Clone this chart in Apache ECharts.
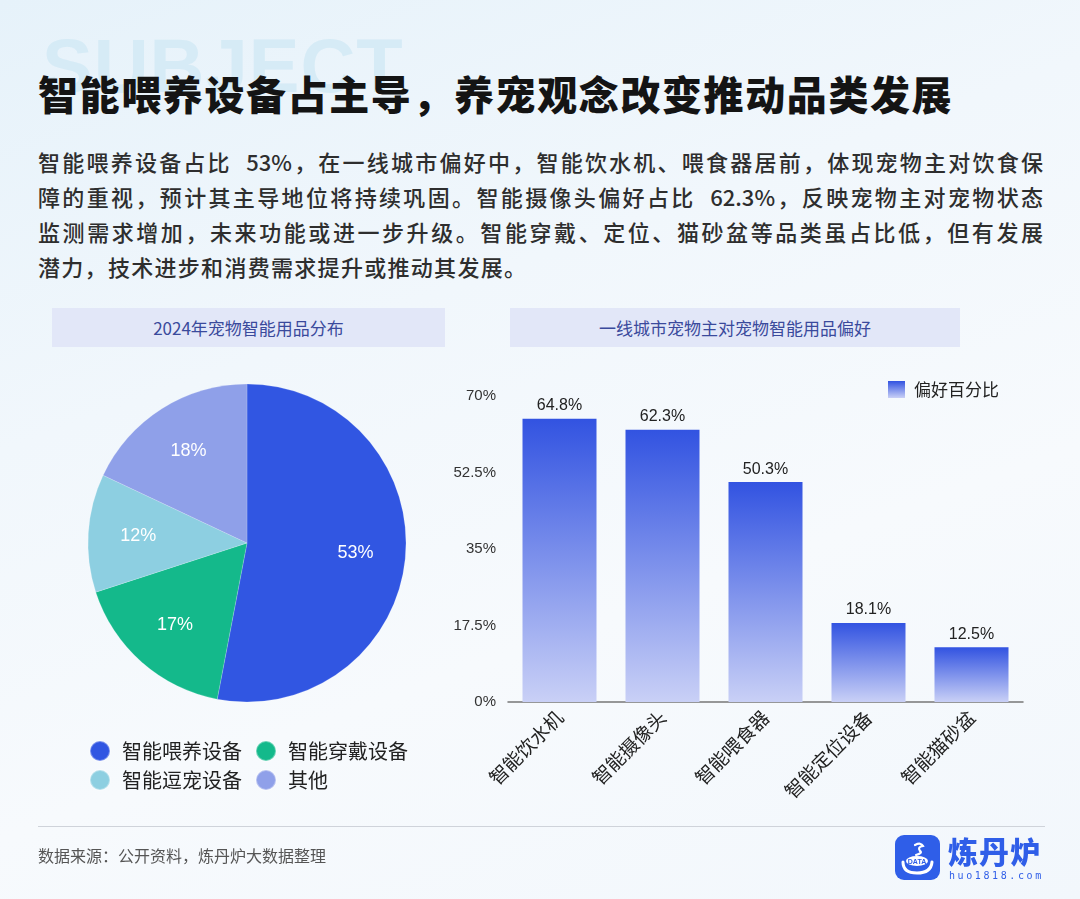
<!DOCTYPE html>
<html>
<head>
<meta charset="utf-8">
<script src="https://cdn.jsdelivr.net/npm/echarts@6/dist/echarts.min.js"></script>
<style>
html,body{margin:0;padding:0;}
body{width:1080px;height:899px;overflow:hidden;position:relative;
  background:linear-gradient(160deg,#e6f2fa 0%,#f1f7fc 35%,#f7fafd 65%,#f2f7fc 100%);
  font-family:"Noto Sans CJK SC","Noto Sans",sans-serif;}
.abs{position:absolute;}
#wm{left:42px;top:22px;font-family:"Liberation Sans",Arial,sans-serif;font-weight:bold;font-size:76px;color:#d3eaf6;letter-spacing:1px;opacity:0.85;}
#title{left:38px;top:64px;font-size:40px;font-weight:900;color:#141414;letter-spacing:1.6px;white-space:nowrap;}
#para{left:38px;top:144px;width:1005px;font-size:22px;line-height:35px;color:#2e2e2e;font-weight:500;letter-spacing:1.3px;}
#para div{white-space:nowrap;}
#para .j{text-align:justify;text-align-last:justify;letter-spacing:0;}
.hdr{top:308px;height:39px;line-height:39px;background:#e2e7f8;color:#3a4a9c;font-size:17px;text-align:center;}
#foot-line{left:38px;top:826px;width:1007px;height:1px;background:#cfd3da;}
#src{left:38px;top:843px;font-size:16px;color:#555;}
#logo{left:895px;top:835px;width:45px;height:45px;}
#logoTxt{left:948px;top:828px;font-size:30px;font-weight:900;color:#2f5ee8;letter-spacing:1px;}
#logoUrl{left:949px;top:870px;font-family:"DejaVu Sans Mono",monospace;font-size:10px;color:#2f5ee8;letter-spacing:2.6px;}
#chart{left:0;top:0;width:1080px;height:899px;}
</style>
</head>
<body>
<div id="wm" class="abs">SUBJECT</div>
<div id="title" class="abs">智能喂养设备占主导，养宠观念改变推动品类发展</div>
<div id="para" class="abs">
<div class="j">智能喂养设备占比&nbsp;&nbsp;53%，在一线城市偏好中，智能饮水机、喂食器居前，体现宠物主对饮食保</div>
<div class="j">障的重视，预计其主导地位将持续巩固。智能摄像头偏好占比&nbsp;&nbsp;62.3%，反映宠物主对宠物状态</div>
<div class="j">监测需求增加，未来功能或进一步升级。智能穿戴、定位、猫砂盆等品类虽占比低，但有发展</div>
<div>潜力，技术进步和消费需求提升或推动其发展。</div>
</div>
<div class="abs hdr" style="left:52px;width:393px;">2024年宠物智能用品分布</div>
<div class="abs hdr" style="left:510px;width:450px;">一线城市宠物主对宠物智能用品偏好</div>
<div id="chart" class="abs"></div>
<div id="foot-line" class="abs"></div>
<div id="src" class="abs">数据来源：公开资料，炼丹炉大数据整理</div>
<svg id="logo" class="abs" viewBox="0 0 45 45">
  <rect x="0" y="0" width="45" height="45" rx="9" fill="#2f5ee8"/>
  <path d="M20 10 q6 -3 8 1 q-6 1 -3 5 q3 2 -4 4" stroke="#fff" stroke-width="2.2" fill="none" stroke-linecap="round"/>
  <path d="M8 27 q0 11 14 11 q14 0 15 -11" stroke="#fff" stroke-width="3" fill="none" stroke-linecap="round"/>
  <ellipse cx="22" cy="26" rx="11" ry="5" fill="#fff"/>
  <text x="22" y="28.5" font-family="Liberation Sans,Arial" font-size="7" font-weight="bold" fill="#2f5ee8" text-anchor="middle">DATA</text>
</svg>
<div id="logoTxt" class="abs">炼丹炉</div>
<div id="logoUrl" class="abs">huo1818.com</div>
<script>
// Pie data
var pieNames = ['智能喂养设备', '智能穿戴设备', '智能逗宠设备', '其他'];
var pieValues = [53, 17, 12, 18];
var pieColors = ['#3156e2', '#14b98b', '#8dcfe1', '#8fa0e9'];
// Bar data
var barCategories = ['智能饮水机', '智能摄像头', '智能喂食器', '智能定位设备', '智能猫砂盆'];
var barValues = [64.8, 62.3, 50.3, 18.1, 12.5];
var barSeriesName = '偏好百分比';
var yTicks = [0, 17.5, 35, 52.5, 70];

var numFont = '"Liberation Sans", Arial, "Noto Sans CJK SC", sans-serif';
var cjkFont = '"Noto Sans CJK SC", sans-serif';

var pieData = pieNames.map(function (n, i) {
  return { name: n, value: pieValues[i], itemStyle: { color: pieColors[i] } };
});
var barGrad = new echarts.graphic.LinearGradient(0, 0, 0, 1, [
  { offset: 0, color: '#3253e1' },
  { offset: 1, color: '#c9d0f6' }
]);

var chart = echarts.init(document.getElementById('chart'), null, { renderer: 'canvas' });
chart.setOption({
  backgroundColor: 'transparent',
  animation: false,
  legend: [
    { data: pieNames.slice(0, 2), left: 89, top: 740, padding: 0, icon: 'circle', itemWidth: 20, itemHeight: 20, itemGap: 13,
      textStyle: { fontSize: 20, color: '#222', fontFamily: cjkFont, padding: [0, 0, 0, 7] }, selectedMode: false },
    { data: pieNames.slice(2, 4), left: 89, top: 769, padding: 0, icon: 'circle', itemWidth: 20, itemHeight: 20, itemGap: 13,
      textStyle: { fontSize: 20, color: '#222', fontFamily: cjkFont, padding: [0, 0, 0, 7] }, selectedMode: false },
    { data: [barSeriesName], left: 888, top: 381, padding: 0, icon: 'rect', itemWidth: 17, itemHeight: 17,
      textStyle: { fontSize: 17, color: '#222', fontFamily: cjkFont, padding: [0, 0, 0, 4] }, selectedMode: false }
  ],
  grid: { left: 508, right: 57, top: 396, bottom: 197 },
  xAxis: {
    type: 'category', data: barCategories,
    axisLine: { show: true, lineStyle: { color: '#777', width: 1.5 } },
    axisTick: { show: false },
    axisLabel: { rotate: 45, fontSize: 19, color: '#222', fontFamily: cjkFont, margin: 12, interval: 0 }
  },
  yAxis: {
    type: 'value', min: 0, max: 70, interval: 17.5,
    axisLine: { show: false }, axisTick: { show: false }, splitLine: { show: false },
    axisLabel: { formatter: function (v) { return v + '%'; }, fontSize: 15, color: '#333', fontFamily: numFont, margin: 12 }
  },
  series: [
    {
      type: 'pie', name: 'pie', center: [247, 543], radius: [0, 159], startAngle: 90, clockwise: true,
      data: pieData, label: { show: false }, labelLine: { show: false },
      itemStyle: { borderColor: 'rgba(255,255,255,0.35)', borderWidth: 0.5 }, silent: true
    },
    {
      type: 'pie', name: 'pieLabels', center: [247, 543], radius: [53, 159], startAngle: 90, clockwise: true,
      data: pieNames.map(function (n, i) { return { name: n + ' ', value: pieValues[i] }; }),
      itemStyle: { color: 'rgba(0,0,0,0)' }, silent: true, legendHoverLink: false,
      label: { show: true, position: 'inside', formatter: '{c}%', color: '#fff', fontSize: 18, fontFamily: numFont },
      labelLine: { show: false }
    },
    {
      type: 'bar', name: barSeriesName, data: barValues, barWidth: 74,
      itemStyle: { color: barGrad },
      label: { show: true, position: 'top', formatter: '{c}%', fontSize: 16, color: '#222', fontFamily: numFont, distance: 5 }
    }
  ]
});
</script>
</body>
</html>
